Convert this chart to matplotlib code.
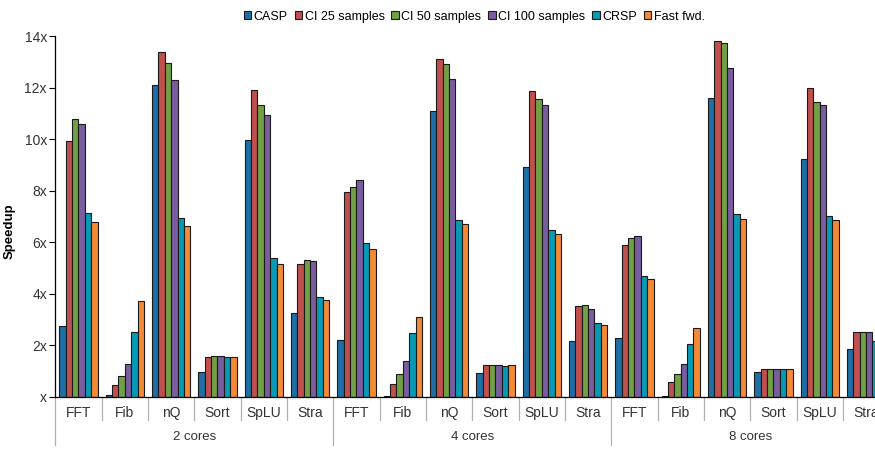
import numpy as np
import matplotlib
matplotlib.use("Agg")
import matplotlib.pyplot as plt
from matplotlib.transforms import blended_transform_factory

plt.rcParams["font.family"] = ["Liberation Sans", "DejaVu Sans"]
plt.rcParams["font.size"] = 9.5

# ---------------- data ----------------
benchmarks = ["FFT", "Fib", "nQ", "Sort", "SpLU", "Stra"]
core_groups = ["2 cores", "4 cores", "8 cores"]
series_names = ["CASP", "CI 25 samples", "CI 50 samples", "CI 100 samples", "CRSP", "Fast fwd."]
colors = ["#1F6EA5", "#C0504D", "#72A044", "#7A5D9F", "#0899B4", "#F48A36"]

# values in order: 2 cores (FFT..Stra), 4 cores, 8 cores
casp = [2.76, 0.05, 12.10, 0.95, 9.96, 3.24,
        2.19, 0.03, 11.09, 0.93, 8.94, 2.16,
        2.27, 0.03, 11.61, 0.96, 9.22, 1.87]
ci25 = [9.95, 0.47, 13.38, 1.55, 11.93, 5.17,
        7.94, 0.51, 13.11, 1.22, 11.88, 3.52,
        5.88, 0.56, 13.80, 1.08, 12.00, 2.50]
ci50 = [10.78, 0.82, 12.97, 1.58, 11.33, 5.30,
        8.15, 0.89, 12.94, 1.23, 11.55, 3.55,
        6.18, 0.88, 13.72, 1.09, 11.46, 2.51]
ci100 = [10.58, 1.27, 12.29, 1.59, 10.93, 5.26,
         8.42, 1.39, 12.33, 1.23, 11.32, 3.42,
         6.24, 1.28, 12.76, 1.09, 11.32, 2.51]
crsp = [7.15, 2.50, 6.96, 1.53, 5.40, 3.89,
        5.97, 2.46, 6.88, 1.20, 6.46, 2.85,
        4.70, 2.03, 7.11, 1.08, 7.01, 2.16]
fastfwd = [6.79, 3.72, 6.62, 1.55, 5.17, 3.77,
           5.74, 3.08, 6.72, 1.22, 6.31, 2.77,
           4.59, 2.66, 6.90, 1.06, 6.87, 2.10]

series = [casp, ci25, ci50, ci100, crsp, fastfwd]
yticks = [0, 2, 4, 6, 8, 10, 12, 14]
ytick_labels = ["x", "2x", "4x", "6x", "8x", "10x", "12x", "14x"]

# ---------------- figure ----------------
fig = plt.figure(figsize=(8.75, 4.49), dpi=100)
ax = fig.add_axes([0.0632, 0.1165, 0.953, 0.8027])

n_cat = len(benchmarks) * len(core_groups)
x = np.arange(n_cat)
w = 0.138
for j, (vals, name, c) in enumerate(zip(series, series_names, colors)):
    ax.bar(x + (j - 2.5) * w, vals, width=w, color=c, edgecolor="#1a1a1a",
           linewidth=0.8, label=name, zorder=2)

ax.set_xlim(-0.5, n_cat - 0.5)
ax.set_ylim(0, 14)
ax.set_yticks(yticks)
ax.set_yticklabels(ytick_labels)
ax.tick_params(axis="y", direction="out", length=4, width=0.8, pad=2, labelcolor="#333333",
               labelsize=10)
ax.set_xticks([])
for s in ["top", "right"]:
    ax.spines[s].set_visible(False)
ax.spines["left"].set_linewidth(0.9)
ax.spines["bottom"].set_linewidth(0.9)
ax.set_ylabel("Speedup", fontweight="bold")
ax.yaxis.set_label_coords(-0.048, 0.46)

# grouped category axis
trans = blended_transform_factory(ax.transData, ax.transAxes)
sep_color = "#b0b0b0"
for k in range(n_cat + 1):
    xb = k - 0.5
    bottom = -0.134 if k % len(benchmarks) == 0 else -0.065
    ax.plot([xb, xb], [0, bottom], color=sep_color, lw=0.9, transform=trans, clip_on=False)
for i in range(n_cat):
    ax.text(x[i], -0.045, benchmarks[i % len(benchmarks)], transform=trans,
            ha="center", va="center", color="#333333", fontsize=10)
for g, label in enumerate(core_groups):
    center = g * len(benchmarks) + (len(benchmarks) - 1) / 2
    ax.text(center, -0.111, label, transform=trans, ha="center", va="center", color="#333333")

ax.legend(loc="center", bbox_to_anchor=(0.542, 0.963), bbox_transform=fig.transFigure,
          ncol=6, frameon=False, fontsize=9, handlelength=0.6, handleheight=0.6,
          handletextpad=0.2, columnspacing=0.55, borderaxespad=0)

fig.savefig("out.png", dpi=100)
